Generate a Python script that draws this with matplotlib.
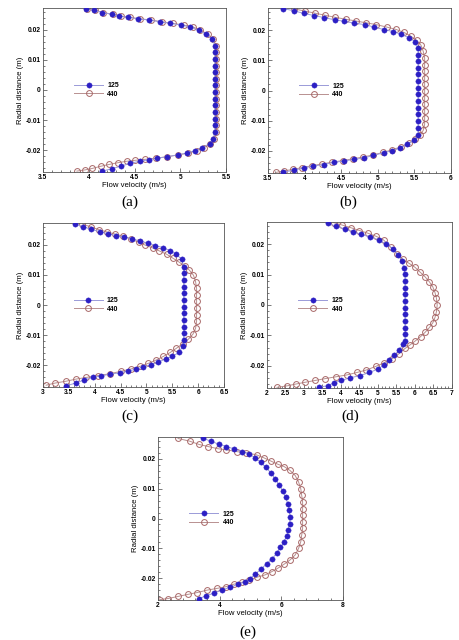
import matplotlib
matplotlib.use("Agg")
import matplotlib.pyplot as plt
from matplotlib.ticker import MultipleLocator, AutoMinorLocator, FuncFormatter

plt.rcParams['font.family'] = ['Liberation Sans', 'DejaVu Sans']

# ---- panel (a) ----
a125_x = [3.97, 4.06, 4.15, 4.25, 4.33, 4.43, 4.54, 4.66, 4.78, 4.89, 5.01, 5.11, 5.20, 5.28, 5.35,
          5.38, 5.38, 5.38, 5.38, 5.38, 5.38, 5.38, 5.38, 5.38, 5.38, 5.38, 5.38, 5.38, 5.38,
          5.36, 5.32, 5.24, 5.16, 5.07, 4.97, 4.86, 4.75, 4.66, 4.56, 4.45, 4.35, 4.25, 4.15]
a125_y = [0.0270, 0.0265, 0.0258, 0.0252, 0.0246, 0.0242, 0.0237, 0.0233, 0.0227, 0.0222, 0.0216, 0.0210, 0.0199, 0.0186, 0.0169,
          0.0147, 0.0125, 0.0103, 0.0081, 0.0059, 0.0037, 0.0015, -0.0007, -0.0029, -0.0051, -0.0073, -0.0095, -0.0117, -0.0139,
          -0.0163, -0.0179, -0.0192, -0.0202, -0.0210, -0.0216, -0.0222, -0.0227, -0.0232, -0.0237, -0.0244, -0.0254, -0.0262, -0.0270]
a440_x = [3.98, 4.07, 4.16, 4.26, 4.35, 4.45, 4.56, 4.68, 4.80, 4.92, 5.04, 5.14, 5.22, 5.30, 5.36,
          5.39, 5.39, 5.39, 5.39, 5.39, 5.39, 5.39, 5.39, 5.39, 5.39, 5.39, 5.39, 5.39, 5.39,
          5.37, 5.33, 5.26, 5.18, 5.09, 4.98, 4.86, 4.73, 4.61, 4.51, 4.42, 4.32, 4.22, 4.13, 4.04, 3.96, 3.87]
a440_y = [0.0270, 0.0265, 0.0258, 0.0252, 0.0246, 0.0242, 0.0237, 0.0233, 0.0227, 0.0222, 0.0216, 0.0210, 0.0199, 0.0186, 0.0169,
          0.0147, 0.0125, 0.0103, 0.0081, 0.0059, 0.0037, 0.0015, -0.0007, -0.0029, -0.0051, -0.0073, -0.0095, -0.0117, -0.0139,
          -0.0163, -0.0179, -0.0192, -0.0202, -0.0210, -0.0216, -0.0222, -0.0227, -0.0231, -0.0234, -0.0237, -0.0242, -0.0248,
          -0.0254, -0.0261, -0.0266, -0.0270]

# ---- panel (b) ----
b125_x = [3.71, 3.85, 3.99, 4.13, 4.27, 4.41, 4.54, 4.68, 4.82, 4.95, 5.09, 5.21, 5.32, 5.42, 5.51,
          5.55, 5.55, 5.55, 5.55, 5.55, 5.55, 5.55, 5.55, 5.55, 5.55, 5.55, 5.55, 5.55,
          5.55, 5.49, 5.40, 5.30, 5.20, 5.08, 4.94, 4.81, 4.68, 4.54, 4.40, 4.26, 4.12, 3.99, 3.85, 3.71]
b125_y = [0.0271, 0.0264, 0.0255, 0.0248, 0.0241, 0.0234, 0.0229, 0.0223, 0.0218, 0.0210, 0.0201, 0.0195, 0.0186, 0.0175, 0.0162,
          0.0141, 0.0119, 0.0097, 0.0075, 0.0053, 0.0031, 0.0009, -0.0013, -0.0035, -0.0057, -0.0079, -0.0101, -0.0123,
          -0.0146, -0.0165, -0.0178, -0.0191, -0.0199, -0.0206, -0.0215, -0.0223, -0.0228, -0.0233, -0.0238, -0.0245,
          -0.0250, -0.0256, -0.0264, -0.0270]
b440_x = [3.86, 4.00, 4.14, 4.28, 4.42, 4.56, 4.70, 4.84, 4.98, 5.12, 5.25, 5.36, 5.45, 5.53, 5.59, 5.62,
          5.64, 5.64, 5.64, 5.64, 5.64, 5.64, 5.64, 5.64, 5.64, 5.64, 5.64,
          5.62, 5.58, 5.51, 5.42, 5.32, 5.20, 5.07, 4.94, 4.80, 4.66, 4.52, 4.38, 4.24, 4.10, 3.97, 3.84, 3.72, 3.61]
b440_y = [0.0270, 0.0263, 0.0256, 0.0249, 0.0242, 0.0236, 0.0230, 0.0224, 0.0218, 0.0210, 0.0202, 0.0192, 0.0180, 0.0166, 0.0150, 0.0130,
          0.0108, 0.0086, 0.0064, 0.0042, 0.0020, -0.0002, -0.0024, -0.0046, -0.0068, -0.0090, -0.0112,
          -0.0132, -0.0148, -0.0162, -0.0175, -0.0186, -0.0196, -0.0205, -0.0213, -0.0220, -0.0226, -0.0232, -0.0237,
          -0.0243, -0.0249, -0.0255, -0.0261, -0.0266, -0.0271]

# ---- panel (c) ----
c125_x = [3.61, 3.77, 3.93, 4.10, 4.26, 4.41, 4.57, 4.72, 4.88, 5.03, 5.17, 5.32, 5.45, 5.58, 5.68,
          5.72, 5.72, 5.72, 5.72, 5.72, 5.72, 5.72, 5.72, 5.72, 5.72, 5.72, 5.72,
          5.70, 5.63, 5.50, 5.37, 5.23, 5.08, 4.93, 4.79, 4.65, 4.48, 4.30, 4.13, 3.96, 3.79, 3.63, 3.45]
c125_y = [0.0270, 0.0261, 0.0252, 0.0244, 0.0237, 0.0231, 0.0227, 0.0220, 0.0213, 0.0206, 0.0198, 0.0191, 0.0181, 0.0169, 0.0152,
          0.0128, 0.0106, 0.0083, 0.0061, 0.0039, 0.0017, -0.0006, -0.0028, -0.0050, -0.0072, -0.0094, -0.0117,
          -0.0137, -0.0158, -0.0171, -0.0180, -0.0190, -0.0199, -0.0207, -0.0214, -0.0220, -0.0226, -0.0230, -0.0236,
          -0.0241, -0.0250, -0.0260, -0.0269]
c440_x = [3.76, 3.92, 4.08, 4.24, 4.40, 4.55, 4.71, 4.85, 4.98, 5.12, 5.25, 5.39, 5.51, 5.63, 5.74, 5.83, 5.91, 5.95,
          5.97, 5.97, 5.97, 5.97, 5.97, 5.97,
          5.95, 5.90, 5.81, 5.70, 5.58, 5.46, 5.33, 5.19, 5.04, 4.88, 4.70, 4.50, 4.29, 4.06, 3.84, 3.63, 3.44, 3.23, 3.06]
c440_y = [0.0270, 0.0260, 0.0251, 0.0243, 0.0236, 0.0229, 0.0219, 0.0209, 0.0199, 0.0190, 0.0180, 0.0169, 0.0156, 0.0143, 0.0130,
          0.0116, 0.0099, 0.0078,
          0.0056, 0.0034, 0.0012, -0.0010, -0.0032, -0.0054,
          -0.0078, -0.0097, -0.0114, -0.0129, -0.0144, -0.0158, -0.0171, -0.0183, -0.0194, -0.0204, -0.0213, -0.0221,
          -0.0229, -0.0235, -0.0241, -0.0247, -0.0254, -0.0260, -0.0267]

# ---- panel (d) ----
d125_x = [3.64, 3.87, 4.10, 4.32, 4.55, 4.79, 5.02, 5.21, 5.41, 5.54, 5.65, 5.70,
          5.73, 5.73, 5.73, 5.73, 5.73, 5.73, 5.73, 5.73, 5.73, 5.73, 5.73,
          5.68, 5.58, 5.44, 5.29, 5.15, 4.99, 4.77, 4.52, 4.23, 4.01, 3.80, 3.64, 3.41]
d125_y = [0.0269, 0.0259, 0.0250, 0.0241, 0.0232, 0.0224, 0.0214, 0.0201, 0.0185, 0.0165, 0.0145, 0.0123,
          0.0101, 0.0079, 0.0057, 0.0035, 0.0013, -0.0009, -0.0031, -0.0053, -0.0075, -0.0097, -0.0119,
          -0.0128, -0.0147, -0.0166, -0.0182, -0.0198, -0.0211, -0.0222, -0.0232, -0.0240, -0.0248, -0.0257, -0.0265, -0.0271]
d440_x = [3.80, 4.03, 4.27, 4.50, 4.73, 4.95, 5.15, 5.34, 5.51, 5.67, 5.84, 6.00, 6.13, 6.27, 6.39, 6.48, 6.54, 6.58,
          6.60, 6.58, 6.54, 6.48, 6.39, 6.28, 6.15, 6.01, 5.87, 5.73, 5.56, 5.38, 5.15, 4.94, 4.68, 4.43, 4.16,
          3.87, 3.58, 3.31, 3.04, 2.78, 2.54, 2.27]
d440_y = [0.0271, 0.0263, 0.0254, 0.0245, 0.0236, 0.0226, 0.0214, 0.0190, 0.0168, 0.0150, 0.0137, 0.0124, 0.0109, 0.0093,
          0.0076, 0.0060, 0.0041, 0.0022,
          0.0000, -0.0022, -0.0041, -0.0059, -0.0074, -0.0089, -0.0104, -0.0118, -0.0131, -0.0143, -0.0161, -0.0177,
          -0.0191, -0.0202, -0.0214, -0.0222, -0.0230, -0.0236, -0.0242, -0.0248, -0.0254, -0.0260, -0.0266, -0.0271]

# ---- panel (e) ----
e125_x = [3.46, 3.71, 3.97, 4.22, 4.47, 4.71, 4.94, 5.16, 5.33, 5.50, 5.66, 5.80, 5.93, 6.05, 6.14, 6.21, 6.26, 6.28,
          6.27, 6.23, 6.17, 6.09, 5.97, 5.85, 5.70, 5.52, 5.33, 5.16, 4.98, 4.83, 4.60, 4.35, 4.06, 3.81, 3.57, 3.33]
e125_y = [0.0269, 0.0259, 0.0249, 0.0241, 0.0233, 0.0224, 0.0217, 0.0203, 0.0188, 0.0171, 0.0153, 0.0133, 0.0112, 0.0092,
          0.0071, 0.0050, 0.0028, 0.0006, -0.0017, -0.0038, -0.0058, -0.0078, -0.0097, -0.0117, -0.0134, -0.0152, -0.0170,
          -0.0186, -0.0201, -0.0212, -0.0220, -0.0230, -0.0240, -0.0250, -0.0259, -0.0268]
e440_x = [2.65, 3.03, 3.33, 3.63, 3.93, 4.22, 4.55, 4.87, 5.20, 5.44, 5.67, 5.88, 6.09, 6.28, 6.45, 6.56, 6.63, 6.66,
          6.69, 6.69, 6.69, 6.69, 6.69, 6.66, 6.63, 6.56, 6.45, 6.28, 6.09, 5.88, 5.69, 5.47, 5.20, 4.96, 4.71, 4.46, 4.22,
          3.92, 3.59, 3.27, 2.98, 2.65, 2.33, 2.05]
e440_y = [0.0268, 0.0259, 0.0248, 0.0241, 0.0234, 0.0230, 0.0224, 0.0220, 0.0213, 0.0203, 0.0192, 0.0182, 0.0174, 0.0161,
          0.0144, 0.0122, 0.0100, 0.0078, 0.0056, 0.0033, 0.0011, -0.0011, -0.0033, -0.0056, -0.0078, -0.0100, -0.0122,
          -0.0139, -0.0153, -0.0167, -0.0178, -0.0189, -0.0197, -0.0206, -0.0214, -0.0220, -0.0228, -0.0234, -0.0240,
          -0.0248, -0.0254, -0.0261, -0.0268, -0.0272]

panels = [
    ("(a)", a125_x, a125_y, a440_x, a440_y, (3.5, 5.5), 0.5),
    ("(b)", b125_x, b125_y, b440_x, b440_y, (3.5, 6.0), 0.5),
    ("(c)", c125_x, c125_y, c440_x, c440_y, (3.0, 6.5), 0.5),
    ("(d)", d125_x, d125_y, d440_x, d440_y, (2.0, 7.0), 0.5),
    ("(e)", e125_x, e125_y, e440_x, e440_y, (2.0, 8.0), 2.0),
]

# axes boxes in pixels: left, top, right, bottom
boxes = [(43, 8, 226, 172), (268, 8, 451, 173), (43, 223, 224, 387),
         (267, 222, 452, 388), (158, 437, 343, 600)]
caption_xy = [(130, 202), (348, 202), (130, 416), (350, 416), (248, 632)]

W, H = 460, 640
fig = plt.figure(figsize=(W / 100, H / 100), dpi=100)

fmt = FuncFormatter(lambda v, p: ('%g' % round(v, 4)).replace('\u2212', '-'))

blue = '#2c1fc4'
rose = '#a86868'

for (cap, x1, y1, x2, y2, xl, xmaj), (l, t, r, b), (cx, cy) in zip(panels, boxes, caption_xy):
    ax = fig.add_axes([l / W, 1 - b / H, (r - l) / W, (b - t) / H])
    ax.plot(x2, y2, '-', color='#b89090', lw=0.7, marker='o', ms=4.2, mfc='none',
            mec=rose, mew=0.7, label='440', zorder=2)
    ax.plot(x1, y1, '-', color='#9a9ad8', lw=0.7, marker='o', ms=3.8, mfc=blue,
            mec=blue, mew=0.3, label='125', zorder=3)
    ax.set_xlim(*xl)
    ax.set_ylim(-0.0273, 0.0273)
    ax.xaxis.set_major_locator(MultipleLocator(xmaj))
    ax.xaxis.set_minor_locator(AutoMinorLocator(5))
    ax.yaxis.set_major_locator(MultipleLocator(0.01))
    ax.yaxis.set_minor_locator(AutoMinorLocator(5))
    ax.xaxis.set_major_formatter(fmt)
    ax.yaxis.set_major_formatter(fmt)
    ax.tick_params(which='both', direction='in', top=False, right=False,
                   labelsize=4.8, pad=1.5, color='#444444', width=0.5)
    ax.tick_params(which='major', length=3)
    ax.tick_params(which='minor', length=1.6)
    for lab in ax.get_xticklabels() + ax.get_yticklabels():
        lab.set_fontweight('bold')
    for s in ax.spines.values():
        s.set_linewidth(0.6)
        s.set_color('#555555')
    ax.set_xlabel('Flow velocity (m/s)', fontsize=5.6, labelpad=0.5)
    ax.set_ylabel('Radial distance (m)', fontsize=5.6, labelpad=1)

    h, lb = ax.get_legend_handles_labels()
    leg = ax.legend(h[::-1], lb[::-1], loc='center left', bbox_to_anchor=(0.15, 0.5),
                    frameon=False, fontsize=5, handlelength=4.2, handletextpad=0.6,
                    labelspacing=0.25, borderpad=0)
    for tx in leg.get_texts():
        tx.set_fontweight('bold')

    fig.text(cx / W, 1 - cy / H, cap, ha='center', va='center', fontsize=11,
             family=['Liberation Serif', 'DejaVu Serif'])

fig.savefig('out.png', dpi=100)
